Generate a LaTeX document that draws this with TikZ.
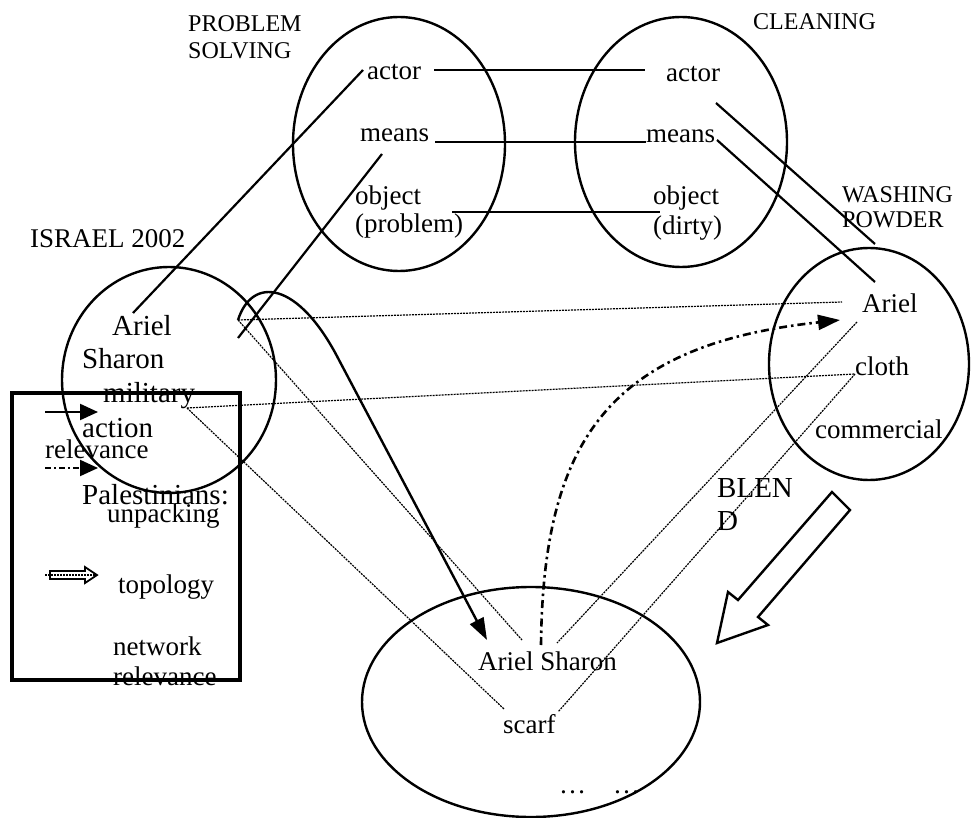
\documentclass[tikz,border=0pt]{standalone}
\usepackage{fontspec}
\setmainfont{Liberation Serif}
\usetikzlibrary{arrows.meta,shapes.geometric}
\begin{document}
\begin{tikzpicture}[x=1pt,y=-1pt,
  frame/.style={draw, ellipse, line width=2.4pt, inner sep=0},
  lbl/.style={anchor=base west, inner sep=0, font=\fontsize{27}{27}\selectfont},
  big/.style={anchor=base west, inner sep=0, font=\fontsize{29}{29}\selectfont},
  ttl/.style={anchor=base west, inner sep=0, font=\fontsize{24}{24}\selectfont},
  link/.style={line width=2.2pt},
  net/.style={line width=1.2pt, dash pattern=on 2pt off 1pt},
  unpack/.style={line width=2.4pt, -{Triangle[length=22pt,width=15pt]}},
  relev/.style={line width=2.6pt, dash pattern=on 8pt off 4pt on 2.5pt off 4pt, -{Triangle[length=22pt,width=15pt]}},
  hollow/.style={line width=2.4pt, line join=miter},
]
\useasboundingbox (0,0) rectangle (972,818);

% frames
\node[frame, minimum width=212pt, minimum height=254pt] (ps) at (399,144) {};
\node[frame, minimum width=212pt, minimum height=250pt] (cl) at (681,142) {};
\node[frame, minimum width=200pt, minimum height=232pt] (wp) at (869,364) {};
\node[frame, minimum width=214pt, minimum height=226pt] (is) at (169,380) {};
\node[frame, minimum width=338pt, minimum height=230pt] (bl) at (531,702) {};

% titles
\node[ttl] (tps1) at (188,32) {PROBLEM};
\node[ttl] (tps2) at (188,59) {SOLVING};
\node[ttl] (tcl) at (753,30) {CLEANING};
\node[ttl] (twp1) at (842,203) {WASHING};
\node[ttl] (twp2) at (842,228) {POWDER};
\node[lbl] (tis) at (30,248) {ISRAEL 2002};

% problem solving
\node[lbl] (psactor) at (367,80) {actor};
\node[lbl] (psmeans) at (360,142) {means};
\node[lbl] (psobj) at (355,205) {object};
\node[lbl] (psprob) at (355,233) {(problem)};
% cleaning
\node[lbl] (clactor) at (666,82) {actor};
\node[lbl] (clmeans) at (646,143) {means};
\node[lbl] (clobj) at (653,205) {object};
\node[lbl] (cldirty) at (653,235) {(dirty)};
% washing powder
\node[lbl] (wpariel) at (862,313) {Ariel};
\node[lbl] (wpcloth) at (855,375) {cloth};
\node[lbl] (wpcomm) at (815,438) {commercial};
% israel
\node[big] (isariel) at (112,335) {Ariel};
\node[big] (issharon) at (82,368) {Sharon};
\node[big] (ismil) at (103,402) {military};
\node[big] (isact) at (82,437) {action};
\node[lbl] (lgrel) at (45,458) {relevance};
\node[big] (ispal) at (82,504) {Palestinians:};
% legend labels
\node[lbl] (lgunp) at (107,522) {unpacking};
\node[lbl] (lgtop) at (118,593) {topology};
\node[lbl] (lgnet) at (113,655) {network};
\node[lbl] (lgnet2) at (113,685) {relevance};
% blend
\node[lbl] (blsharon) at (478,670) {Ariel Sharon};
\node[lbl] (blscarf) at (503,733) {scarf};
\node[lbl] (bldots) at (559,793) {\dots\quad\dots};
\node[big] (blend1) at (717,497) {BLEN};
\node[big] (blend2) at (717,530) {D};

% ports
\coordinate (psA) at (363,70);
\coordinate (psAr) at (434,70);
\coordinate (psM) at (382,154);
\coordinate (psMr) at (435,142);
\coordinate (psO) at (452,212);
\coordinate (clA) at (645,70);
\coordinate (clM) at (646,142);
\coordinate (clO) at (660,212);
\coordinate (clA2) at (716,103);
\coordinate (clM2) at (717,140);
\coordinate (wpA) at (875,244);
\coordinate (wpA2) at (875,282);
\coordinate (isA1) at (133,313);
\coordinate (isA) at (238,320);
\coordinate (isA2) at (238,338);
\coordinate (isM) at (187,408);
\coordinate (wpAn) at (842,302);
\coordinate (wpAs) at (857,322);
\coordinate (wpC) at (855,374);
\coordinate (blS) at (522,640);
\coordinate (blS2) at (557,643);
\coordinate (blSd) at (541,645);
\coordinate (blSc) at (504,709);
\coordinate (blSc2) at (558,712);
\coordinate (blT) at (487,640);
\coordinate (wpT) at (840,320);

% solid mapping links
\draw[link] (psA) -- (isA1);
\draw[link] (psM) -- (isA2);
\draw[link] (psAr) -- (clA);
\draw[link] (psMr) -- (clM);
\draw[link] (psO) -- (clO);
\draw[link] (clA2) -- (wpA);
\draw[link] (clM2) -- (wpA2);

% network relevance lines
\draw[net] (isA) -- (wpAn);
\draw[net] (isM) -- (wpC);
\draw[net] (isA) -- (blS);
\draw[net] (isM) -- (blSc);
\draw[net] (wpAs) -- (blS2);
\draw[net] (wpC) -- (blSc2);

% unpacking arrow
\draw[unpack] (isA) .. controls (252,276) and (298,280) .. (339,360) -- (blT);
% relevance arrow
\draw[relev] (blSd) .. controls (543,440) and (610,345) .. (wpT);

% blend arrow
\draw[hollow] (832,492) -- (850,510) -- (758,617) -- (768,625) -- (717,643) -- (728,592) -- (738,600) -- cycle;

% legend
\coordinate (lg1a) at (45,412); \coordinate (lg1b) at (98,412);
\coordinate (lg2a) at (45,468); \coordinate (lg2b) at (98,468);
\draw[line width=2.2pt, -{Triangle[length=18pt,width=16pt]}] (lg1a) -- (lg1b);
\draw[line width=2pt, dash pattern=on 6pt off 3pt on 2pt off 3pt, -{Triangle[length=18pt,width=16pt]}] (lg2a) -- (lg2b);
\draw[line width=1.8pt] (50,571) -- (85,571) -- (85,567) -- (97,575) -- (85,583) -- (85,579) -- (50,579) -- cycle;
\draw[net] (45,575) -- (97,575);
\node[draw, line width=3.8pt, minimum width=228pt, minimum height=287pt, inner sep=0] (legend) at (126,536.5) {};
\end{tikzpicture}
\end{document}
